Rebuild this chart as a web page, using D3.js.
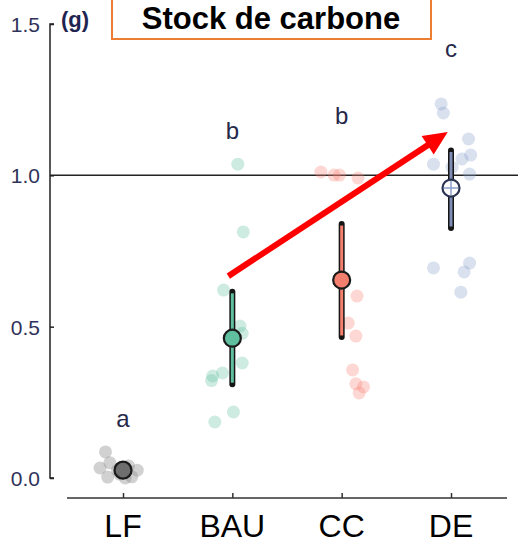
<!DOCTYPE html>
<html>
<head>
<meta charset="utf-8">
<script src="https://cdn.jsdelivr.net/npm/d3@7"></script>
<style>
  body { margin: 0; background: #fff; }
  svg { display: block; }
</style>
</head>
<body>
<script>
// categories and colours
var cats = ["LF", "BAU", "CC", "DE"];
var letters = ["a", "b", "b", "c"];
var letterY = [0.17, 1.12, 1.17, 1.39];

// observations (value) and horizontal jitter (in category units)
var ptsLF = [0.086, 0.033, 0.050, 0.003, 0.026, 0.040, 0.026, 0.004, 0.0, 0.013];
var jitLF = [-0.16, -0.21, -0.12, -0.14, -0.05, 0.05, 0.13, 0.08, 0.02, -0.03];
var ptsBAU = [1.037, 0.813, 0.621, 0.502, 0.478, 0.38, 0.347, 0.337, 0.322, 0.218, 0.185];
var jitBAU = [0.05, 0.10, -0.08, 0.07, 0.09, 0.09, -0.09, -0.18, -0.19, 0.01, -0.16];
var ptsCC = [1.011, 1.001, 1.001, 0.991, 0.601, 0.512, 0.469, 0.357, 0.311, 0.301, 0.281];
var jitCC = [-0.19, -0.07, -0.02, 0.15, 0.14, 0.06, 0.13, 0.10, 0.13, 0.20, 0.16];
var ptsDE = [1.236, 1.206, 1.12, 1.067, 1.054, 1.037, 1.027, 1.004, 0.694, 0.710, 0.681, 0.614];
var jitDE = [-0.09, -0.07, 0.16, 0.18, 0.10, -0.16, 0.01, 0.17, -0.16, 0.17, 0.12, 0.09];

// means and intervals
var means = [0.026, 0.462, 0.654, 0.958];
var lower = [0.018, 0.31, 0.466, 0.826];
var upper = [0.034, 0.615, 0.839, 1.082];

var yTicks = [0.0, 0.5, 1.0, 1.5];

var ptColor = ["#8c8c8c", "#66c2a5", "#f8877a", "#8da0cb"];
var meanFill = ["#6e6e6e", "#5fbf9f", "#f47f6e", "#ffffff"];
var barColor = ["#6e6e6e", "#5fbf9f", "#f47f6e", "#7f8db5"];

var width = 518, height = 537;

var svg = d3.select("body").append("svg")
	.attr("width", width)
	.attr("height", height);

var x = d3.scaleLinear().domain([0, 3]).range([123, 451]);
var y = d3.scaleLinear().domain([0, 1.5]).range([478, 24]);

/* title box */
svg.append("rect")
	.attr("x", 112).attr("y", -3)
	.attr("width", 319).attr("height", 42)
	.attr("fill", "none")
	.attr("stroke", "#ed7d31")
	.attr("stroke-width", 2);
svg.append("text")
	.attr("x", 271).attr("y", 29)
	.attr("text-anchor", "middle")
	.attr("font-family", "Liberation Sans, Arial, sans-serif")
	.attr("font-weight", "bold")
	.attr("font-size", 31)
	.text("Stock de carbone");

svg.append("text")
	.attr("x", 61).attr("y", 27)
	.attr("font-family", "Liberation Sans, Arial, sans-serif")
	.attr("font-weight", "bold")
	.attr("font-size", 22)
	.attr("fill", "#1f2350")
	.text("(g)");

/* y axis */
var yAxis = svg.append("g").attr("transform", "translate(50,0)")
	.call(d3.axisRight(y).tickValues(yTicks).tickSize(4).tickFormat(d3.format(".1f")));
yAxis.select(".domain").attr("d", "M4," + y(1.5) + "H0V" + y(0) + "H4")
	.attr("stroke", "#222").attr("stroke-width", 1.5);
yAxis.selectAll(".tick line").attr("stroke", "#222").attr("stroke-width", 1.5);
yAxis.selectAll(".tick text")
	.attr("x", -10)
	.attr("text-anchor", "end")
	.attr("dy", "0.36em")
	.attr("font-family", "Liberation Sans, Arial, sans-serif")
	.attr("font-size", 21)
	.attr("fill", "#30335a");

/* x axis */
var xAxis = svg.append("g").attr("transform", "translate(0,498)")
	.call(d3.axisTop(x).tickValues([0, 1, 2, 3]).tickSize(5).tickFormat(""));
xAxis.select(".domain").attr("d", "M67,0H507").attr("stroke", "#333").attr("stroke-width", 1.5);
xAxis.selectAll(".tick line").attr("stroke", "#333").attr("stroke-width", 1.5);

svg.append("g").selectAll("text")
	.data(cats)
	.enter().append("text")
		.attr("x", function(d, i) { return x(i); })
		.attr("y", 537)
		.attr("text-anchor", "middle")
		.attr("font-family", "Liberation Sans, Arial, sans-serif")
		.attr("font-size", 32)
		.text(function(d) { return d; });

/* reference line at 1 */
svg.append("line")
	.attr("x1", 50).attr("x2", width)
	.attr("y1", y(1)).attr("y2", y(1))
	.attr("stroke", "#222").attr("stroke-width", 1.5);

/* raw points */
var groups = [[ptsLF, jitLF], [ptsBAU, jitBAU], [ptsCC, jitCC], [ptsDE, jitDE]];
groups.forEach(function(g, i) {
	svg.append("g").selectAll("circle")
		.data(g[0])
		.enter().append("circle")
			.attr("cx", function(d, j) { return x(i + g[1][j]); })
			.attr("cy", function(d) { return y(d); })
			.attr("r", 6.5)
			.attr("fill", ptColor[i])
			.attr("fill-opacity", i == 0 ? 0.4 : 0.33);
});

/* group letters */
svg.append("g").selectAll("text")
	.data(letters)
	.enter().append("text")
		.attr("x", function(d, i) { return x(i); })
		.attr("y", function(d, i) { return y(letterY[i]); })
		.attr("text-anchor", "middle")
		.attr("font-family", "Liberation Sans, Arial, sans-serif")
		.attr("font-size", 24)
		.attr("fill", "#26284a")
		.text(function(d) { return d; });

/* intervals */
var idx = [0, 1, 2, 3];
svg.append("g").selectAll("line")
	.data(idx)
	.enter().append("line")
		.attr("x1", function(i) { return x(i); }).attr("x2", function(i) { return x(i); })
		.attr("y1", function(i) { return y(lower[i]); })
		.attr("y2", function(i) { return y(upper[i]); })
		.attr("stroke", "#151515").attr("stroke-width", 6)
		.attr("stroke-linecap", "round");
svg.append("g").selectAll("line")
	.data(idx)
	.enter().append("line")
		.attr("x1", function(i) { return x(i); }).attr("x2", function(i) { return x(i); })
		.attr("y1", function(i) { return y(lower[i]) - 1.5; })
		.attr("y2", function(i) { return y(upper[i]) + 1.5; })
		.attr("stroke", function(i) { return barColor[i]; }).attr("stroke-width", 3);

/* means */
svg.append("g").selectAll("circle")
	.data(means)
	.enter().append("circle")
		.attr("cx", function(d, i) { return x(i); })
		.attr("cy", function(d) { return y(d); })
		.attr("r", 8.5)
		.attr("fill", function(d, i) { return meanFill[i]; })
		.attr("stroke", function(d, i) { return i == 3 ? "#2a3352" : "#1a1a1a"; })
		.attr("stroke-width", 2.2);

// cross inside the open DE marker
var cx = x(3), cy = y(means[3]);
svg.append("path")
	.attr("d", "M" + (cx - 7) + "," + cy + "H" + (cx + 7) + "M" + cx + "," + (cy - 7) + "V" + (cy + 7))
	.attr("stroke", "#8da0cb").attr("stroke-width", 1.5);

/* red arrow */
var arrowFrom = [1, 0.667];
var arrowTo = [2.97, 1.143];
var x0 = x(arrowFrom[0]) - 4, y0 = y(arrowFrom[1]);
var x1 = x(arrowTo[0]), y1 = y(arrowTo[1]);
var ang = Math.atan2(y1 - y0, x1 - x0);
var headL = 24, headW = 11;
var bx = x1 - headL * Math.cos(ang), by = y1 - headL * Math.sin(ang);
svg.append("line")
	.attr("x1", x0).attr("y1", y0)
	.attr("x2", bx + 2 * Math.cos(ang)).attr("y2", by + 2 * Math.sin(ang))
	.attr("stroke", "#ff0000").attr("stroke-width", 6);
svg.append("path")
	.attr("d", "M" + x1 + "," + y1 +
		"L" + (bx - headW * Math.sin(ang)) + "," + (by + headW * Math.cos(ang)) +
		"L" + (bx + headW * Math.sin(ang)) + "," + (by - headW * Math.cos(ang)) + "Z")
	.attr("fill", "#ff0000");
</script>
</body>
</html>
